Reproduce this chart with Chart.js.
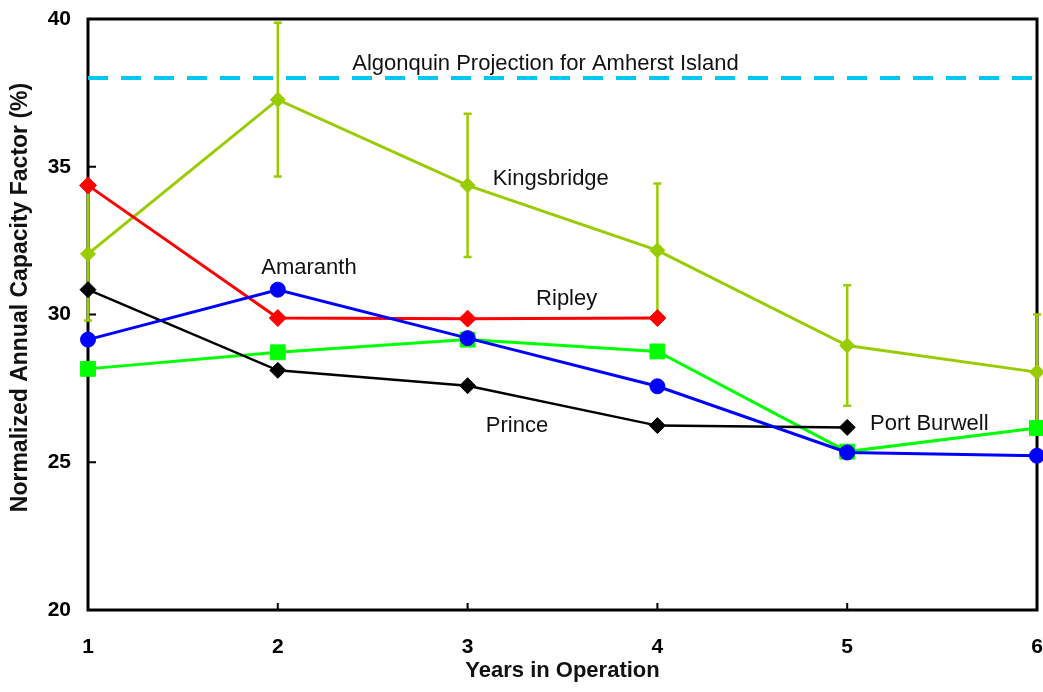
<!DOCTYPE html>
<html>
<head>
<meta charset="utf-8">
<script src="https://cdn.jsdelivr.net/npm/chart.js@4.4.1/dist/chart.umd.min.js"></script>
<style>
    html, body { margin: 0; padding: 0; background: #fff; }
    canvas { display: block; }
</style>
</head>
<body>
<canvas id="capacityChart" width="1043" height="692"></canvas>
<script>
// Values
const years = [1, 2, 3, 4, 5, 6];
const kingsbridge = [32.05, 37.27, 34.37, 32.17, 28.95, 28.05];
const kingsbridgeErr = [2.25, 2.6, 2.42, 2.26, 2.04, 1.95];
const ripley = [34.37, 29.88, 29.86, 29.88];
const amaranth = [29.15, 30.84, 29.2, 27.57, 25.33, 25.22];
const portBurwell = [28.16, 28.72, 29.15, 28.75, 25.36, 26.16];
const prince = [30.84, 28.11, 27.59, 26.24, 26.18];
const algonquinProjection = 38;
const yTicks = [20, 25, 30, 35, 40];

// Text labels placed in data units
const seriesLabels = [
    {text: "Algonquin Projection for Amherst Island", x: 3.41, y: 38.49, align: "center"},
    {text: "Kingsbridge", x: 3.132, y: 34.6, align: "left"},
    {text: "Amaranth", x: 2.164, y: 31.58, align: "center"},
    {text: "Ripley", x: 3.522, y: 30.53, align: "center"},
    {text: "Prince", x: 3.26, y: 26.24, align: "center"},
    {text: "Port Burwell", x: 5.12, y: 26.28, align: "left"},
];
const yTitle = "Normalized Annual Capacity Factor (%)";

const FONT = "'Liberation Sans', Arial, sans-serif";
const KB_COLOR = "#99cc00";

function toPoints(values) {
    return values.map((v, i) => ({x: years[i], y: v}));
}

function lineSet(label, values, color, style, radius, width) {
    return {
        label: label,
        data: toPoints(values),
        borderColor: color,
        backgroundColor: color,
        borderWidth: width,
        pointStyle: style,
        pointRadius: radius,
        pointBorderWidth: 1,
        pointBorderColor: color,
        pointBackgroundColor: color,
        tension: 0,
        clip: false,
    };
}

function noPadding(scale) {
    scale.paddingTop = 0;
    scale.paddingBottom = 0;
    scale.paddingLeft = 0;
    scale.paddingRight = 0;
}

const frameAndTicks = {
    id: "frameAndTicks",
    beforeDatasetsDraw(chart) {
        const {ctx, chartArea: a, scales} = chart;
        ctx.save();
        ctx.strokeStyle = "#000";
        ctx.lineWidth = 2;
        // inward tick marks
        ctx.beginPath();
        years.forEach((yr) => {
            const px = scales.x.getPixelForValue(yr);
            ctx.moveTo(px, a.bottom);
            ctx.lineTo(px, a.bottom - 7);
        });
        yTicks.forEach((v) => {
            const py = scales.y.getPixelForValue(v);
            ctx.moveTo(a.left, py);
            ctx.lineTo(a.left + 8, py);
        });
        ctx.stroke();
        ctx.lineWidth = 3;
        ctx.strokeRect(a.left, a.top, a.right - a.left, a.bottom - a.top);

        // y axis title, sits a little above the plot centre
        ctx.fillStyle = "#111";
        ctx.font = "bold 23px " + FONT;
        ctx.textAlign = "center";
        ctx.textBaseline = "middle";
        ctx.translate(21, (a.top + a.bottom) / 2 - 17);
        ctx.rotate(-Math.PI / 2);
        ctx.fillText(yTitle, 0, 0);
        ctx.restore();
    },
    beforeDatasetDraw(chart, args) {
        // error bars sit right under the Kingsbridge line
        if (chart.data.datasets[args.index].label !== "Kingsbridge") {
            return;
        }
        const {ctx, scales} = chart;
        ctx.save();
        ctx.strokeStyle = KB_COLOR;
        ctx.lineWidth = 2.5;
        ctx.beginPath();
        for (let i = 0; i < kingsbridge.length; i++) {
            const px = scales.x.getPixelForValue(years[i]);
            const top = scales.y.getPixelForValue(kingsbridge[i] + kingsbridgeErr[i]);
            const bot = scales.y.getPixelForValue(kingsbridge[i] - kingsbridgeErr[i]);
            ctx.moveTo(px, top);
            ctx.lineTo(px, bot);
            ctx.moveTo(px - 4, top);
            ctx.lineTo(px + 4, top);
            ctx.moveTo(px - 4, bot);
            ctx.lineTo(px + 4, bot);
        }
        ctx.stroke();
        ctx.restore();
    },
    afterDatasetsDraw(chart) {
        const {ctx, scales} = chart;
        ctx.save();
        ctx.fillStyle = "#111";
        ctx.font = "22px " + FONT;
        ctx.textBaseline = "middle";
        seriesLabels.forEach((l) => {
            ctx.textAlign = l.align;
            ctx.fillText(l.text, scales.x.getPixelForValue(l.x), scales.y.getPixelForValue(l.y));
        });
        ctx.restore();
    }
};

const algonquinSet = {
    label: "Algonquin Projection",
    data: [{x: 1, y: algonquinProjection}, {x: 6, y: algonquinProjection}],
    borderColor: "#00c8f2",
    borderWidth: 4,
    borderDash: [20, 13],
    pointRadius: 0,
    clip: false,
};

new Chart(document.getElementById("capacityChart"), {
    type: "line",
    data: {
        datasets: [
            lineSet("Amaranth", amaranth, "#0000ff", "circle", 7.5, 3),
            lineSet("Prince", prince, "#000000", "rectRot", 8, 2.5),
            lineSet("Port Burwell", portBurwell, "#00ff00", "rect", 10.5, 3),
            lineSet("Ripley", ripley, "#ff0000", "rectRot", 8.5, 3),
            lineSet("Kingsbridge", kingsbridge, KB_COLOR, "rectRot", 7.5, 3),
            algonquinSet,
        ],
    },
    options: {
        responsive: false,
        animation: false,
        layout: {autoPadding: false, padding: {top: 19, right: 6, left: 0, bottom: 0}},
        plugins: {
            legend: {display: false},
            tooltip: {enabled: false},
        },
        scales: {
            x: {
                type: "linear",
                min: 1,
                max: 6,
                grid: {display: false, drawTicks: false},
                border: {display: false},
                ticks: {
                    stepSize: 1,
                    color: "#000",
                    padding: 25,
                    font: {family: FONT, size: 21, weight: "bold"},
                },
                title: {
                    display: true,
                    text: "Years in Operation",
                    color: "#111",
                    padding: {top: 0, bottom: 8},
                    font: {family: FONT, size: 22, weight: "bold"},
                },
                afterFit: (scale) => { scale.height = 82; noPadding(scale); },
            },
            y: {
                min: 20,
                max: 40,
                grid: {display: false, drawTicks: false},
                border: {display: false},
                ticks: {
                    stepSize: 5,
                    color: "#000",
                    padding: 17,
                    font: {family: FONT, size: 21, weight: "bold"},
                },
                afterFit: (scale) => { scale.width = 88; noPadding(scale); },
            },
        },
    },
    plugins: [frameAndTicks],
});
</script>
</body>
</html>
